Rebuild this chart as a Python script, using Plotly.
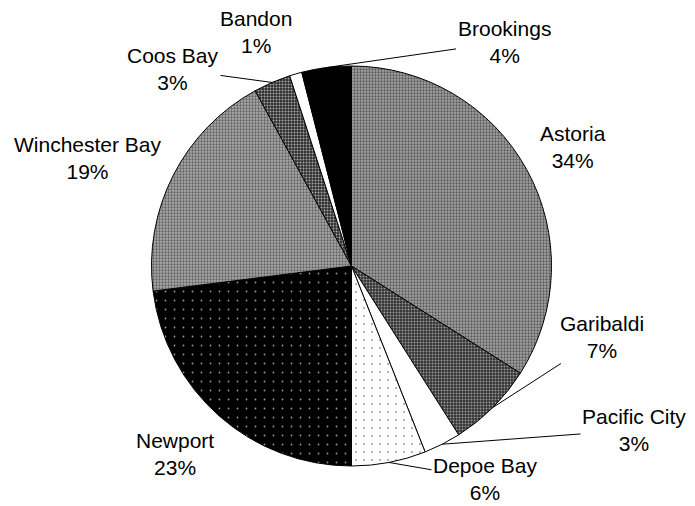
import math
import plotly.graph_objects as go

ports=['Astoria','Garibaldi','Pacific City','Depoe Bay','Newport','Winchester Bay','Coos Bay','Bandon','Brookings']
share=[34,7,3,6,23,19,3,1,4]

# fills: base colour, dot colour, dot shape
base=['#a4a4a4','#333333','#ffffff','#ffffff','#000000','#ababab','#2e2e2e','#ffffff','#000000']
dots=['#5a5a5a','#9a9a9a','#ffffff','#9a9a9a','#9a9a9a','#626262','#a8a8a8','#ffffff','#000000']
shape=['.','.','','.','.','.','.','','']
dsize=[3,3,4,8,9,3,3,4,4]
solid=[0.45,0.35,0.1,0.05,0.03,0.45,0.35,0.1,0.1]

W,H=695,506
off=8  # page body margin pushes the plot 8px right/down
cx,cy,r=351.5-off,266-off,200

# where the label text sits (page px), and which ones get a leader line
lab_xy={'Astoria':(573,147),'Garibaldi':(602,337),'Pacific City':(634,430),'Depoe Bay':(485,479),
        'Newport':(175,454),'Winchester Bay':(88,158),'Coos Bay':(173,69),'Bandon':(256,32),'Brookings':(504,42)}
leader=['Garibaldi','Pacific City','Depoe Bay','Coos Bay','Brookings']

fig=go.Figure(go.Pie(labels=ports,values=share,sort=False,direction='clockwise',rotation=0,
    textinfo='none',hoverinfo='label+percent',showlegend=False,
    domain=dict(x=[(cx-r)/W,(cx+r)/W],y=[(H-cy-r)/H,(H-cy+r)/H]),
    marker=dict(colors=base,line=dict(color='black',width=1),
        pattern=dict(shape=shape,fgcolor=dots,bgcolor=base,size=dsize,solidity=solid,fillmode='replace'))))

tot=sum(share)
cum=0
ann=[]
for p,v in zip(ports,share):
    a=math.radians(360*(cum+v/2)/tot)
    cum+=v
    tx,ty=lab_xy[p][0]-off,lab_xy[p][1]-off
    txt=p+'<br>'+str(v)+'%'
    if p in leader:
        ex=cx+r*math.sin(a); ey=cy-r*math.cos(a)
        ann.append(dict(x=ex/W,y=1-ey/H,xref='paper',yref='paper',text=txt,showarrow=True,
            ax=tx-ex,ay=ty-ey,arrowhead=0,arrowwidth=1,arrowcolor='black',standoff=0))
    else:
        ann.append(dict(x=tx/W,y=1-ty/H,xref='paper',yref='paper',text=txt,showarrow=False,
            xanchor='center',yanchor='middle'))

fig.update_layout(width=W,height=H,margin=dict(l=0,r=0,t=0,b=0),paper_bgcolor='white',
    font=dict(family='Arial, Liberation Sans, sans-serif',size=21,color='black'),annotations=ann)
fig.write_html('out.html')
